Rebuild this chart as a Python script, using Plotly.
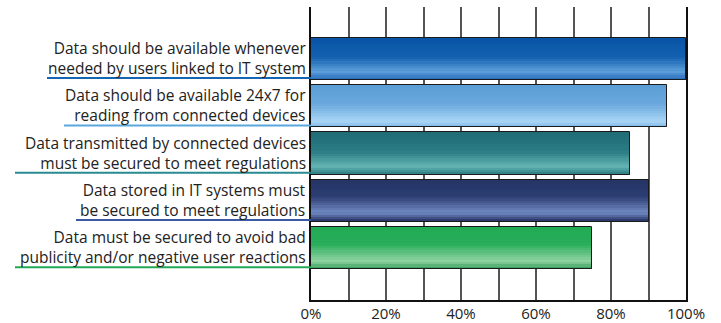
import plotly.graph_objects as go

# ---- data ----
categories = [
    "Data should be available whenever<br>needed by users linked to IT system",
    "Data should be available 24x7 for<br>reading from connected devices",
    "Data transmitted by connected devices<br>must be secured to meet regulations",
    "Data stored in IT systems must<br>be secured to meet regulations",
    "Data must be secured to avoid bad<br>publicity and/or negative user reactions",
]
values = [1.00, 0.95, 0.85, 0.90, 0.75]
tick_vals = [0, 0.1, 0.2, 0.3, 0.4, 0.5, 0.6, 0.7, 0.8, 0.9, 1.0]
tick_text = ["0%", "", "20%", "", "40%", "", "60%", "", "80%", "", "100%"]

# ---- style ----
gradients = [
    [(0.0, "#0853a5"), (0.45, "#1360b0"), (0.80, "#5c9fd9"), (1.0, "#2266b8")],
    [(0.0, "#5b9ed6"), (0.45, "#6aa8dd"), (0.85, "#a9d5f5"), (1.0, "#7fb6e6")],
    [(0.0, "#1f6c76"), (0.45, "#2a7c84"), (0.80, "#62b3b1"), (1.0, "#2b7c82")],
    [(0.0, "#243464"), (0.40, "#2c3d72"), (0.78, "#7089c2"), (1.0, "#232f62")],
    [(0.0, "#22ab55"), (0.40, "#28ad5a"), (0.82, "#92d3a3"), (1.0, "#2a9a52")],
]
underline_colors = ["#1565b5", "#5aa7de", "#2a8a92", "#3a5aa5", "#22a855"]
underline_start_px = [47, 64, 15, 76, 15]
PLOT_L, PLOT_R = 311, 686
BAR_W = 0.89
N_BANDS = 18


def hex2rgb(h):
    h = h.lstrip("#")
    return tuple(int(h[i:i + 2], 16) for i in (0, 2, 4))


def interp(stops, t):
    for (p0, c0), (p1, c1) in zip(stops, stops[1:]):
        if p0 <= t <= p1:
            f = 0 if p1 == p0 else (t - p0) / (p1 - p0)
            a, b = hex2rgb(c0), hex2rgb(c1)
            return "rgb(%d,%d,%d)" % tuple(round(a[i] + (b[i] - a[i]) * f) for i in range(3))
    return stops[-1][1]


pos = list(range(len(categories)))
fig = go.Figure()

band_w = BAR_W / N_BANDS
for k in range(N_BANDS):
    t = (k + 0.5) / N_BANDS
    fig.add_trace(go.Bar(
        x=values, y=pos, orientation="h",
        width=band_w * 1.04, offset=-BAR_W / 2 + k * band_w,
        marker=dict(color=[interp(g, t) for g in gradients], line=dict(width=0)),
        showlegend=False, hoverinfo="skip",
    ))

# outline
fig.add_trace(go.Bar(
    x=values, y=pos, orientation="h", width=BAR_W,
    marker=dict(color="rgba(0,0,0,0)", line=dict(color="#1a1a1a", width=1)),
    showlegend=False, hoverinfo="x",
))

for i, lab in enumerate(categories):
    fig.add_annotation(
        x=0, xref="paper", y=pos[i], yref="y", text=lab, showarrow=False,
        xanchor="right", yanchor="middle", align="right", xshift=-3, yshift=1,
        font=dict(family="Open Sans", size=15.5, color="#222222"),
    )
    x0 = (underline_start_px[i] - PLOT_L) / (PLOT_R - PLOT_L)
    fig.add_shape(
        type="line", xref="x domain", yref="y",
        x0=x0, x1=0, y0=pos[i] + BAR_W / 2 - 0.04, y1=pos[i] + BAR_W / 2 - 0.04,
        line=dict(color=underline_colors[i], width=2),
    )

fig.update_layout(
    width=721, height=323,
    margin=dict(l=PLOT_L, r=721 - PLOT_R, t=7, b=23),
    paper_bgcolor="white", plot_bgcolor="white",
    barmode="overlay", bargap=0,
    xaxis=dict(
        range=[0, 1], tickvals=tick_vals, ticktext=tick_text,
        showgrid=True, gridcolor="#555555", gridwidth=1.5,
        showline=True, linecolor="#111111", linewidth=1.5,
        ticks="", zeroline=False, ticklabelstandoff=-1, automargin=False,
        tickfont=dict(family="Open Sans", size=15, color="#222222"),
    ),
    yaxis=dict(
        range=[len(categories) - 1 + 1.1, -1.1],
        showticklabels=False, showgrid=False, zeroline=False,
        showline=True, linecolor="#111111", linewidth=1.5, mirror=True,
        ticks="", automargin=False,
    ),
)

fig.write_html("out.html")
